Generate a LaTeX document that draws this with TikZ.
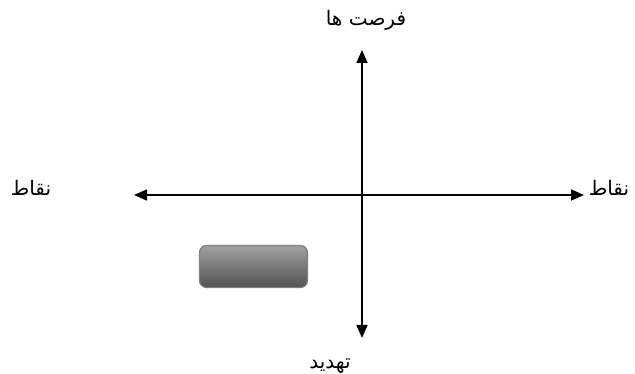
\documentclass[tikz,border=0pt]{standalone}
\usepackage{fontspec}
\usetikzlibrary{arrows.meta}
\TeXXeTstate=1
\newfontfamily\arabicfont[Script=Arabic]{DejaVu Sans}
\begin{document}
\begin{tikzpicture}[x=1pt,y=-1pt,
  axis/.style={line width=1.6pt,{Triangle[length=13pt,width=11pt]}-{Triangle[length=13pt,width=11pt]}},
  lbl/.style={font=\arabicfont\fontsize{20}{24}\selectfont,inner sep=0pt},
  gbox/.style={rounded corners=7pt,draw=black!50,line width=1.2pt,top color=black!37,bottom color=black!68}]
\clip (0,0) rectangle (635,374);
\fill[white] (0,0) rectangle (635,374);
\coordinate (top) at (362,50);
\coordinate (bot) at (362,338);
\coordinate (lft) at (134,195);
\coordinate (rgt) at (584,195);
\draw[axis] (bot) -- (top);
\draw[axis] (lft) -- (rgt);
\node[lbl] (t1) at (366,20) {\beginR فرصت ها\endR};
\node[lbl] (t2) at (31,188) {\beginR نقاط\endR};
\node[lbl] (t3) at (609,188) {\beginR نقاط\endR};
\node[lbl] (t4) at (330,366) {\beginR تهدید\endR};
\node[gbox,minimum width=108pt,minimum height=42pt] (b) at (253.5,266.5) {};
\end{tikzpicture}
\end{document}
